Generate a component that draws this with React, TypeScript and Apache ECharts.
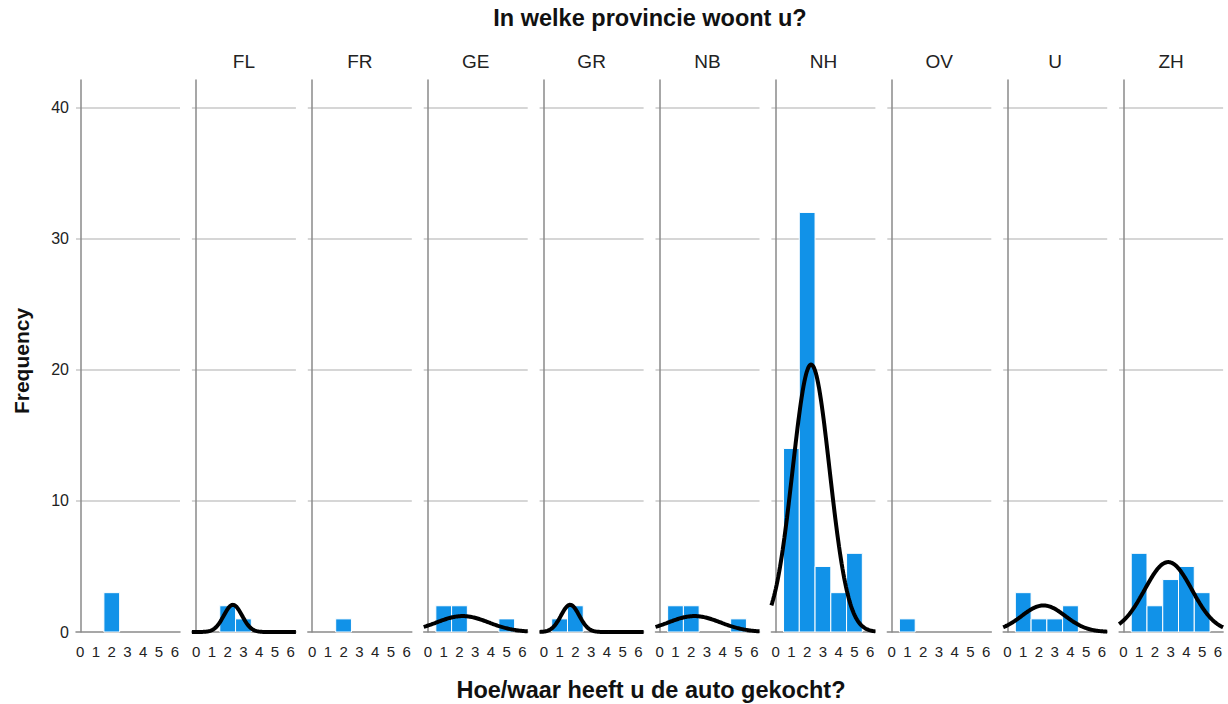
import React, { useEffect, useRef } from "react";
import * as echarts from "echarts";

// Data
const xValues = [0, 1, 2, 3, 4, 5, 6];
const provinces = ["", "FL", "FR", "GE", "GR", "NB", "NH", "OV", "U", "ZH"];
const freqMissing = [0, 0, 3, 0, 0, 0, 0];
const freqFL = [0, 0, 2, 1, 0, 0, 0];
const freqFR = [0, 0, 1, 0, 0, 0, 0];
const freqGE = [0, 2, 2, 0, 0, 1, 0];
const freqGR = [0, 1, 2, 0, 0, 0, 0];
const freqNB = [0, 2, 2, 0, 0, 1, 0];
const freqNH = [0, 14, 32, 5, 3, 6, 0];
const freqOV = [0, 1, 0, 0, 0, 0, 0];
const freqU = [0, 3, 1, 1, 2, 0, 0];
const freqZH = [0, 6, 2, 4, 5, 3, 0];
const frequencies = [freqMissing, freqFL, freqFR, freqGE, freqGR, freqNB, freqNH, freqOV, freqU, freqZH];
const yTicks = [0, 10, 20, 30, 40];

const X_MIN = -0.27;
const X_MAX = 6.33;
const Y_MAX = 42.1;

function normalCurve(freq: number[]): number[][] | null {
  const n = freq.reduce((a, b) => a + b, 0);
  if (n < 2) return null;
  let sum = 0;
  freq.forEach((f, i) => (sum += f * xValues[i]));
  const mean = sum / n;
  let ss = 0;
  freq.forEach((f, i) => (ss += f * (xValues[i] - mean) ** 2));
  const sd = Math.sqrt(ss / (n - 1));
  if (sd === 0) return null;
  const pts: number[][] = [];
  const steps = 120;
  for (let k = 0; k <= steps; k++) {
    const x = X_MIN + ((X_MAX - X_MIN) * k) / steps;
    const z = (x - mean) / sd;
    pts.push([x, (n / (sd * Math.sqrt(2 * Math.PI))) * Math.exp(-0.5 * z * z)]);
  }
  return pts;
}

export default function App() {
  const ref = useRef<HTMLDivElement>(null);
  useEffect(() => {
    document.body.style.margin = "0";
    const chart = echarts.init(ref.current!, null, { renderer: "svg" });
    const font = "'Liberation Sans', Arial, sans-serif";
    const grids: any[] = [];
    const xAxes: any[] = [];
    const yAxes: any[] = [];
    const series: any[] = [];
    const graphics: any[] = [];
    const PW = 104;
    const STEP = 115.9;
    provinces.forEach((p, i) => {
      const left = 76 + i * STEP;
      grids.push({ left, top: 80, width: PW, height: 552 });
      xAxes.push({
        type: "value",
        gridIndex: i,
        min: X_MIN,
        max: X_MAX,
        axisLine: { show: true, lineStyle: { color: "#8a8a8a", width: 1.5 } },
        axisTick: { show: false },
        splitLine: { show: false },
        axisLabel: {
          customValues: xValues,
          color: "#222",
          fontSize: 15,
          fontFamily: font,
          margin: 12,
        },
      });
      yAxes.push({
        type: "value",
        gridIndex: i,
        min: 0,
        max: Y_MAX,
        interval: 10,
        axisLine: { show: true, lineStyle: { color: "#8a8a8a", width: 1.5 } },
        axisTick: { show: false },
        splitLine: {
          show: true,
          showMinLine: false,
          showMaxLine: false,
          lineStyle: { color: "#c8c8c8", width: 1.5 },
        },
        axisLabel: {
          show: i === 0,
          customValues: yTicks,
          color: "#222",
          fontSize: 16,
          fontFamily: font,
          margin: 7,
        },
      });
      const data = frequencies[i]
        .map((f, k) => [xValues[k], f])
        .filter((d) => d[1] > 0);
      series.push({
        type: "custom",
        xAxisIndex: i,
        yAxisIndex: i,
        encode: { x: 0, y: 1 },
        data,
        renderItem: (params: any, api: any) => {
          const x = api.value(0);
          const y = api.value(1);
          const p0 = api.coord([x - 0.5, y]);
          const p1 = api.coord([x + 0.5, 0]);
          return {
            type: "rect",
            shape: { x: p0[0], y: p0[1], width: p1[0] - p0[0], height: p1[1] - p0[1] },
            style: { fill: "#1192e8", stroke: "#ffffff", lineWidth: 1 },
          };
        },
      });
      const curve = normalCurve(frequencies[i]);
      if (curve) {
        series.push({
          type: "line",
          xAxisIndex: i,
          yAxisIndex: i,
          data: curve,
          showSymbol: false,
          smooth: false,
          lineStyle: { color: "#000", width: 4 },
          z: 5,
        });
      }
      if (p) {
        graphics.push({
          type: "text",
          x: left + PW / 2,
          y: 61,
          style: {
            text: p,
            fill: "#222",
            font: `19px ${font}`,
            textAlign: "center",
            textVerticalAlign: "middle",
          },
        });
      }
    });
    graphics.push(
      {
        type: "text",
        x: 650,
        y: 18,
        style: {
          text: "In welke provincie woont u?",
          fill: "#111",
          font: `bold 23.5px ${font}`,
          textAlign: "center",
          textVerticalAlign: "middle",
        },
      },
      {
        type: "text",
        x: 651,
        y: 690,
        style: {
          text: "Hoe/waar heeft u de auto gekocht?",
          fill: "#111",
          font: `bold 23.5px ${font}`,
          textAlign: "center",
          textVerticalAlign: "middle",
        },
      },
      {
        type: "text",
        x: 21,
        y: 361,
        rotation: Math.PI / 2,
        style: {
          text: "Frequency",
          fill: "#111",
          font: `bold 21px ${font}`,
          textAlign: "center",
          textVerticalAlign: "middle",
        },
      }
    );
    chart.setOption({
      animation: false,
      backgroundColor: "#fff",
      grid: grids,
      xAxis: xAxes,
      yAxis: yAxes,
      series,
      graphic: graphics,
    });
    return () => chart.dispose();
  }, []);
  return <div ref={ref} style={{ width: 1228, height: 704 }} />;
}
